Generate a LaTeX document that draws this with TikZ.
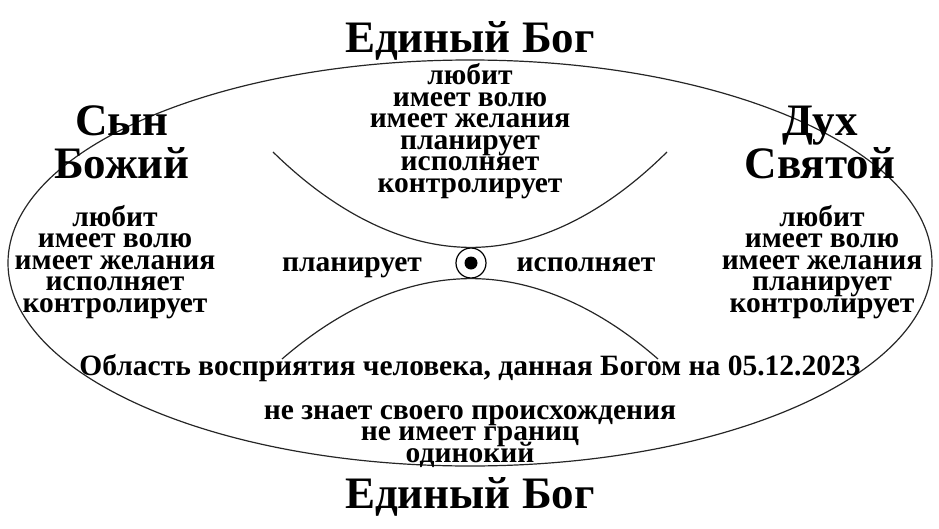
\documentclass[tikz,border=0pt]{standalone}
\usepackage{fontspec}
\setmainfont{Liberation Serif}
\newcommand\serre{\lineskiplimit=-100pt\relax}
\begin{document}
\begin{tikzpicture}[x=1pt,y=1pt,
	titre/.style={font=\fontsize{45}{43}\selectfont\bfseries\serre,align=center,inner sep=0pt,anchor=base},
	liste/.style={font=\fontsize{29.5}{21.5}\selectfont\bfseries\serre,align=center,inner sep=0pt,anchor=base},
	trait/.style={line width=1.2pt,black!85}]
		\useasboundingbox (-470,-265) rectangle (469,263);
		% Ellipse et arcs
		\draw [trait] (0,0) ellipse [x radius=462,y radius=203];
		\node [circle,draw,line width=1.2pt,minimum size=30pt,inner sep=0pt] (centre) at (1,0) {};
		\node [circle,fill,minimum size=13pt,inner sep=0pt] (point) at (centre) {};
		\draw [trait] (-197,111) parabola bend (centre.north) (197,111);
		\draw [trait] (-188,-96) parabola bend (centre.south) (188,-96);
		\node [titre] (bogH) at (0,211) {Единый Бог};
		\node [titre] (bogB) at (0,-245) {Единый Бог};
		\node [titre] (syn) at (-348,85) {Сын\\Божий};
		\node [titre] (duh) at (350,85) {Дух\\Святой};
		\node [liste] (listeH) at (0,71) {любит\\имеет волю\\имеет желания\\планирует\\исполняет\\контролирует};
		\node [liste] (listeG) at (-355,-49) {любит\\имеет волю\\имеет желания\\исполняет\\контролирует};
		\node [liste] (listeD) at (352,-49) {любит\\имеет волю\\имеет желания\\планирует\\контролирует};
		\node [liste] (plan) at (-118,-8) {планирует};
		\node [liste] (isp) at (116,-8) {исполняет};
		\node [liste] (oblast) at (0,-112) {Область восприятия человека, данная Богом на 05.12.2023};
		\node [liste] (listeB) at (0,-199) {не знает своего происхождения\\не имеет границ\\одинокий};
\end{tikzpicture}
\end{document}
